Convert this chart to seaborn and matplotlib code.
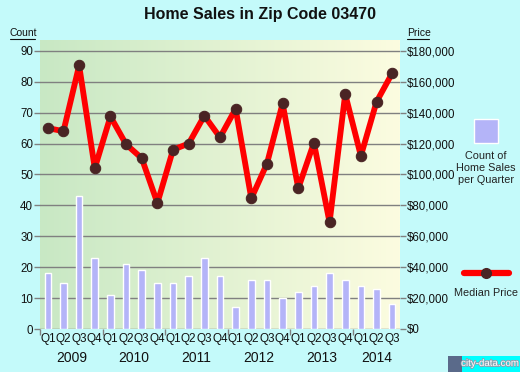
import numpy as np
import pandas as pd
import seaborn as sns
import matplotlib.pyplot as plt
import matplotlib.patheffects as pe
from matplotlib.lines import Line2D
from matplotlib.patches import Rectangle

quarters = ['Q1', 'Q2', 'Q3', 'Q4'] * 5 + ['Q1', 'Q2', 'Q3']
years = ['2009', '2010', '2011', '2012', '2013', '2014']
sales_count = [18, 15, 43, 23, 11, 21, 19, 15, 15, 17, 23, 17,
               7, 16, 16, 10, 12, 14, 18, 16, 14, 13, 8]
median_price = [130000, 128000, 170500, 104000, 137500, 119500, 110500, 81500,
                116000, 120000, 138000, 124000, 142500, 84500, 107000, 146000,
                91000, 120500, 69000, 152000, 112000, 147000, 165500]

sns.set_theme(style='white')
plt.rcParams['font.family'] = ['Liberation Sans', 'DejaVu Sans']

df = pd.DataFrame({'idx': range(len(sales_count)), 'count': sales_count,
                   'price': median_price})

bg = '#c4fafa'
fig = plt.figure(figsize=(5.2, 3.72), dpi=100, facecolor=bg)
ax = fig.add_axes([40 / 520, 1 - 329 / 372, 360 / 520, 289 / 372])
ax2 = ax.twinx()

# gradient plot background
grad = np.linspace(0, 1, 256).reshape(1, -1)
c0 = np.array([200, 232, 196]) / 255
c1 = np.array([252, 252, 224]) / 255
img = c0[None, None, :] * (1 - grad[..., None]) + c1[None, None, :] * grad[..., None]
ax.imshow(img, extent=[-0.5, 22.5, 0, 93.5], aspect='auto', zorder=0)

for v in range(0, 100, 10):
    ax.axhline(v, color='#808080', lw=1, zorder=1)

sns.barplot(data=df, x='idx', y='count', ax=ax, color='#b4b4f8', saturation=1,
            width=0.42, edgecolor='white', linewidth=1, zorder=2)
sns.lineplot(data=df, x='idx', y='price', ax=ax2, color='red', lw=4.2,
             marker='o', markersize=7.5, markerfacecolor='#4a2424',
             markeredgecolor='#4a2424', zorder=3)

ax.set_xlim(-0.5, 22.5)
ax.set_ylim(0, 93.5)
ax2.set_ylim(0, 187000)
ax.set_yticks(range(0, 100, 10))
ax2.set_yticks(range(0, 200000, 20000))
ax2.set_yticklabels(['$0'] + ['${:,}'.format(v) for v in range(20000, 200000, 20000)])
ax.set_xticks(range(len(quarters)))
ax.set_xticklabels(quarters)
ax.set_xticks(np.arange(-0.5, 23, 4), minor=True)
ax.set_xlabel('')
ax.set_ylabel('')
ax2.set_ylabel('')

for a in (ax, ax2):
    for s in a.spines.values():
        s.set_visible(False)
    a.tick_params(axis='y', length=4, width=1, color='#808080', pad=1,
                  labelsize=8.3, labelcolor='#111111')
ax.tick_params(axis='y', left=True, labelleft=True)
ax2.tick_params(axis='y', right=True, labelright=True)
ax.tick_params(axis='x', which='major', length=0, pad=3, labelsize=8.5,
               labelcolor='#111111')
ax.tick_params(axis='x', which='minor', bottom=True, length=4, width=1,
               color='#808080')

for i, yr in enumerate(years):
    n = 4 if i < 5 else 3
    cx = i * 4 + (n - 1) / 2
    ax.text(cx, -0.1, yr, transform=ax.get_xaxis_transform(), ha='center',
            va='center', fontsize=10, color='#111111')

fig.text(0.5, 1 - 15 / 372, 'Home Sales in Zip Code 03470', ha='center',
         va='center', fontsize=11.5, fontweight='bold', color='#111111')

# underlined axis captions
for label, x0, x1 in [('Count', 10, 35), ('Price', 407, 429)]:
    fig.text(x0 / 520, 1 - 33 / 372, label, ha='left', va='center',
             fontsize=7.5, color='#111111')
    fig.lines.append(Line2D([x0 / 520, x1 / 520], [1 - 39 / 372] * 2,
                            transform=fig.transFigure, color='#111111', lw=0.8))

# legend on the right
fig.patches.append(Rectangle((474 / 520, 1 - 143 / 372), 24 / 520, 24 / 372,
                             transform=fig.transFigure, facecolor='#b4b4f8',
                             edgecolor='white', lw=1))
fig.text(486 / 520, 1 - 168 / 372, 'Count of\nHome Sales\nper Quarter',
         ha='center', va='center', fontsize=7.8, color='#222222',
         linespacing=1.3)
fig.lines.append(Line2D([464 / 520, 509 / 520], [1 - 273 / 372] * 2,
                        transform=fig.transFigure, color='red', lw=4.5))
fig.lines.append(Line2D([486 / 520], [1 - 273 / 372], transform=fig.transFigure,
                        marker='o', markersize=7, color='#4a2424', lw=0))
fig.text(486 / 520, 1 - 293 / 372, 'Median Price', ha='center', va='center',
         fontsize=7.8, color='#222222')

# watermark
fig.patches.append(Rectangle((448 / 520, 0), 14 / 520, 16 / 372,
                             transform=fig.transFigure, facecolor='#5a6a8a',
                             edgecolor='none'))
fig.patches.append(Rectangle((462 / 520, 0), 58 / 520, 16 / 372,
                             transform=fig.transFigure, facecolor='#00ffff',
                             edgecolor='none'))
fig.text(490 / 520, 9 / 372, 'city-data.com', ha='center', va='center',
         fontsize=7, color='white',
         path_effects=[pe.withStroke(linewidth=1.2, foreground='#8aa0b0')])

fig.savefig('out.png', dpi=100, facecolor=bg)
